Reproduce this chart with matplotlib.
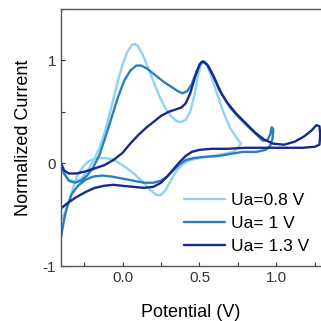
import matplotlib
matplotlib.use("Agg")
import matplotlib.pyplot as plt
from matplotlib.ticker import MultipleLocator

plt.rcParams['font.family'] = ['Liberation Sans', 'DejaVu Sans']

labels = ["Ua=0.8 V", "Ua= 1 V", "Ua= 1.3 V"]
colors = ["#8fd3f4", "#2a80b9", "#1a2a8a"]

# Ua = 0.8 V : anodic branch then cathodic branch
x08 = [-0.40, -0.38, -0.35, -0.31, -0.27, -0.23, -0.19, -0.15, -0.11, -0.07, -0.03, 0.00, 0.03, 0.06,
       0.08, 0.10, 0.13, 0.16, 0.20, 0.24, 0.28, 0.32, 0.35, 0.38, 0.41, 0.44, 0.47, 0.49, 0.51, 0.53,
       0.55, 0.58, 0.62, 0.66, 0.70, 0.74, 0.77,
       0.75, 0.72, 0.66, 0.58, 0.50, 0.44, 0.40, 0.37, 0.34, 0.31, 0.28, 0.25, 0.22, 0.18, 0.13, 0.08,
       0.03, -0.02, -0.07, -0.12, -0.17, -0.22, -0.26, -0.30, -0.33, -0.36, -0.40]
y08 = [0.00, -0.10, -0.16, -0.18, -0.15, -0.08, 0.02, 0.15, 0.33, 0.56, 0.80, 0.96, 1.08, 1.15,
       1.16, 1.14, 1.06, 0.95, 0.80, 0.65, 0.53, 0.45, 0.41, 0.40, 0.42, 0.50, 0.68, 0.85, 0.96, 0.99,
       0.95, 0.83, 0.65, 0.48, 0.34, 0.25, 0.19,
       0.15, 0.11, 0.09, 0.07, 0.05, 0.03, 0.00, -0.04, -0.10, -0.18, -0.26, -0.31, -0.31, -0.26, -0.18, -0.11,
       -0.05, 0.00, 0.04, 0.05, 0.05, 0.02, -0.04, -0.14, -0.28, -0.44, -0.55]

# Ua = 1 V
x10 = [-0.40, -0.38, -0.35, -0.31, -0.27, -0.23, -0.19, -0.15, -0.11, -0.07, -0.03, 0.01, 0.05, 0.09,
       0.12, 0.16, 0.21, 0.26, 0.31, 0.36, 0.39, 0.42, 0.45, 0.48, 0.51, 0.53, 0.56, 0.60, 0.65, 0.70,
       0.76, 0.82, 0.87, 0.91, 0.94, 0.96, 0.97,
       0.98, 0.975, 0.96, 0.93, 0.87, 0.78, 0.70, 0.62, 0.52, 0.46, 0.41, 0.37, 0.33, 0.29, 0.25, 0.20,
       0.14, 0.07, 0.00, -0.07, -0.13, -0.19, -0.24, -0.29, -0.33, -0.36, -0.38, -0.40]
y10 = [0.00, -0.10, -0.17, -0.19, -0.17, -0.12, -0.04, 0.08, 0.26, 0.45, 0.64, 0.80, 0.90, 0.95,
       0.95, 0.92, 0.86, 0.80, 0.75, 0.70, 0.68, 0.70, 0.77, 0.89, 0.98, 0.99, 0.94, 0.82, 0.66, 0.54,
       0.44, 0.35, 0.28, 0.22, 0.22, 0.28, 0.35,
       0.33, 0.24, 0.17, 0.13, 0.11, 0.11, 0.09, 0.07, 0.06, 0.05, 0.03, -0.01, -0.07, -0.13, -0.17, -0.19,
       -0.19, -0.17, -0.15, -0.13, -0.12, -0.13, -0.16, -0.22, -0.30, -0.42, -0.55, -0.72]

# Ua = 1.3 V
x13 = [-0.40, -0.38, -0.35, -0.30, -0.24, -0.18, -0.12, -0.06, 0.00, 0.05, 0.10, 0.15, 0.20, 0.25,
       0.30, 0.34, 0.38, 0.41, 0.44, 0.47, 0.50, 0.52, 0.55, 0.59, 0.63, 0.68, 0.74, 0.80, 0.86, 0.92,
       0.98, 1.05, 1.12, 1.18, 1.23, 1.26, 1.28,
       1.285, 1.28, 1.25, 1.17, 1.05, 0.95, 0.80, 0.68, 0.58, 0.50, 0.45, 0.41, 0.37, 0.33, 0.29, 0.25,
       0.20, 0.14, 0.07, 0.00, -0.06, -0.12, -0.18, -0.24, -0.30, -0.35, -0.40]
y13 = [0.00, -0.07, -0.10, -0.10, -0.08, -0.05, -0.02, 0.03, 0.10, 0.19, 0.27, 0.34, 0.40, 0.46,
       0.50, 0.52, 0.54, 0.58, 0.68, 0.83, 0.96, 0.99, 0.96, 0.85, 0.71, 0.59, 0.48, 0.39, 0.30, 0.23,
       0.19, 0.18, 0.21, 0.26, 0.32, 0.37, 0.36,
       0.28, 0.18, 0.16, 0.15, 0.15, 0.15, 0.15, 0.14, 0.14, 0.13, 0.11, 0.07, 0.01, -0.06, -0.13, -0.19,
       -0.23, -0.24, -0.23, -0.22, -0.21, -0.22, -0.24, -0.28, -0.33, -0.38, -0.44]

xs = [x08, x10, x13]
ys = [y08, y10, y13]

fig = plt.figure(figsize=(3.21, 3.21), dpi=100)
ax = fig.add_axes([61/321, 55/321, 1 - 61/321, (266 - 9)/321])

for x, y, c, lab in zip(xs, ys, colors, labels):
    ax.plot(x, y, color=c, lw=1.7, label=lab, solid_joinstyle='round', solid_capstyle='round')

ax.set_xlim(-0.4, 1.29)
ax.set_ylim(-1, 1.5)
ax.set_xticks([0.0, 0.5, 1.0])
ax.set_xticklabels(["0.0", "0.5", "1.0"])
ax.set_yticks([-1, 0, 1])
ax.set_yticklabels(["-1", "0", "1"])
ax.xaxis.set_minor_locator(MultipleLocator(0.25))
ax.yaxis.set_minor_locator(MultipleLocator(0.5))
ax.tick_params(which='both', direction='in', labelsize=11, colors='#333333', length=3, width=0.8)
ax.tick_params(which='both', top=False, right=False)
for s in ['left', 'bottom', 'top']:
    ax.spines[s].set_color('#555555')
    ax.spines[s].set_linewidth(1.0)
ax.spines['right'].set_visible(False)

ax.set_xlabel("Potential (V)", fontsize=13, labelpad=14)
ax.set_ylabel("Normalized Current", fontsize=13, labelpad=8)

ax.legend(loc='lower right', bbox_to_anchor=(1.0, 0.0), frameon=False, fontsize=12.5,
          handlelength=2.4, handletextpad=0.3, labelspacing=0.45, borderpad=0.2)

fig.savefig("out.png", dpi=100)
